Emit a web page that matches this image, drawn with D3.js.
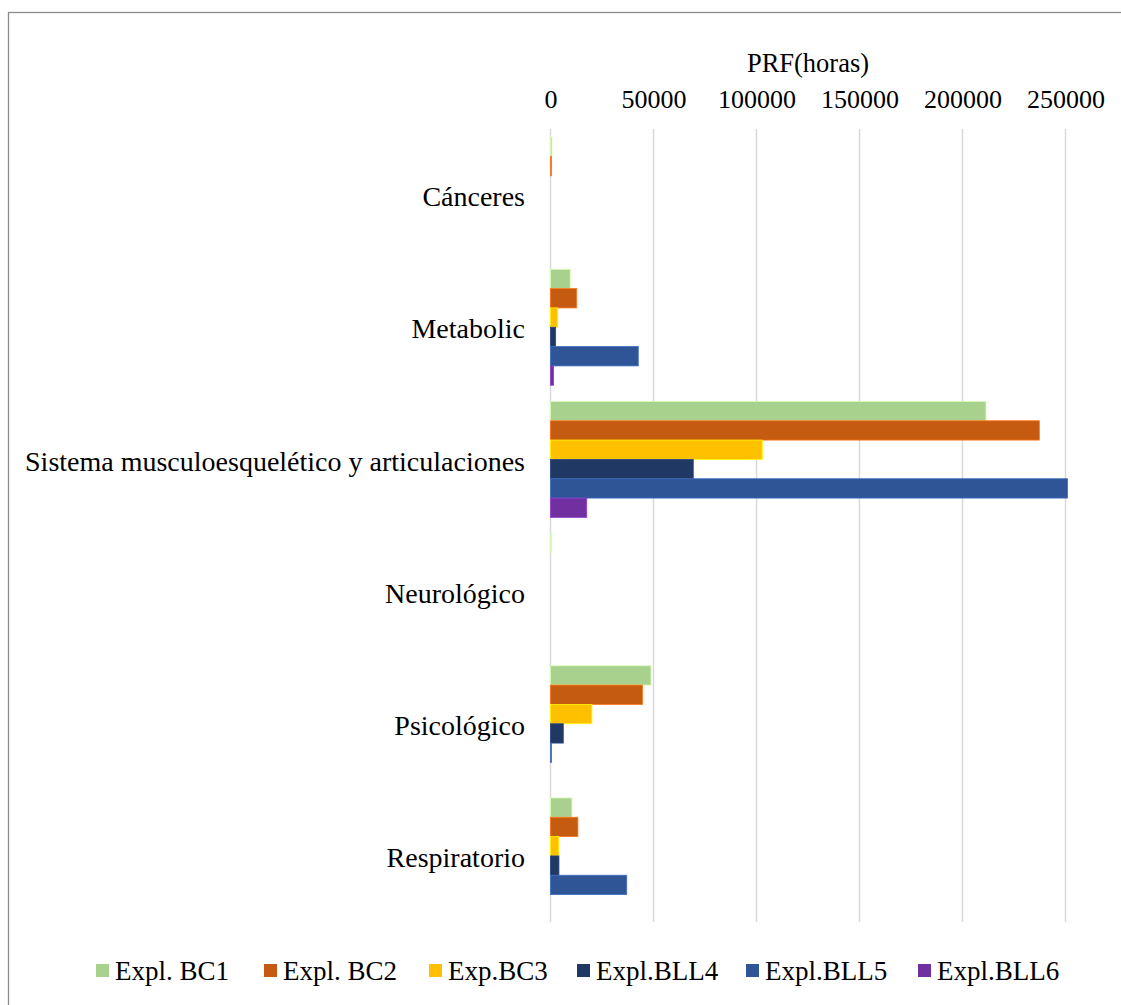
<!DOCTYPE html>
<html>
<head>
<meta charset="utf-8">
<script src="https://cdn.jsdelivr.net/npm/d3@7"></script>
<style>
  html, body { margin: 0; padding: 0; background: #fff; }
  svg { display: block; }
  text { font-family: "Liberation Serif", "Times New Roman", serif; fill: #000; }
</style>
</head>
<body>
<svg id="chart" width="1121" height="1005"></svg>
<script>
// Categories (top to bottom)
const categories = [
  "Cánceres",
  "Metabolic",
  "Sistema musculoesquelético y articulaciones",
  "Neurológico",
  "Psicológico",
  "Respiratorio"
];

// Series names and colours
const seriesNames = ["Expl. BC1", "Expl. BC2", "Exp.BC3", "Expl.BLL4", "Expl.BLL5", "Expl.BLL6"];
const seriesColors = ["#A9D18E", "#C55A11", "#FFC000", "#203864", "#2F5597", "#7030A0"];

// PRF (horas) per series, in category order
const explBC1  = [700,   9600, 211400, 400, 48800, 10400];
const explBC2  = [500,  12700, 237300,   0, 44700, 13300];
const expBC3   = [0,     3500, 102800,   0, 20100,  4000];
const explBLL4 = [0,     2500,  69300,   0,  6200,  4100];
const explBLL5 = [0,    42600, 251000,   0,   500, 37000];
const explBLL6 = [0,     1500,  17600,   0,     0,     0];

// Axis ticks
const tickValues = [0, 50000, 100000, 150000, 200000, 250000];
const axisTitle = "PRF(horas)";

const seriesValues = [explBC1, explBC2, expBC3, explBLL4, explBLL5, explBLL6];

const FONT = '"Liberation Serif", "Times New Roman", serif';
const svg = d3.select("#chart");

// Outer chart frame
svg.append("rect")
  .attr("x", 8.5).attr("y", 12.5)
  .attr("width", 1130).attr("height", 1010)
  .attr("fill", "none").attr("stroke", "#8c8c8c").attr("stroke-width", 1.3);

const plot = { left: 550.5, right: 1065.5, top: 129, bottom: 922 };

const x = d3.scaleLinear().domain([0, 250000]).range([plot.left, plot.right]);

const gap = 0.1225;
const y = d3.scaleBand()
  .domain(categories)
  .range([plot.top, plot.bottom])
  .paddingInner(gap)
  .paddingOuter(gap / 2);

const yInner = d3.scaleBand()
  .domain(d3.range(seriesNames.length))
  .range([0, y.bandwidth()]);

// Vertical gridlines
svg.append("g")
  .selectAll("line")
  .data(tickValues)
  .join("line")
  .attr("x1", d => x(d)).attr("x2", d => x(d))
  .attr("y1", plot.top).attr("y2", plot.bottom)
  .attr("stroke", "#d9d9d9").attr("stroke-width", 1.5);

// Top axis labels
const axis = d3.axisTop(x).tickValues(tickValues).tickSize(0).tickPadding(0)
  .tickFormat(d3.format("d"));
const gAxis = svg.append("g").attr("transform", `translate(0,108)`).call(axis);
gAxis.select(".domain").remove();
gAxis.selectAll("text")
  .attr("dy", 0)
  .style("font-family", FONT)
  .style("font-size", "26px")
  .attr("fill", "#000");

// Axis title
svg.append("text")
  .attr("x", (plot.left + plot.right) / 2)
  .attr("y", 72)
  .attr("text-anchor", "middle")
  .style("font-family", FONT)
  .style("font-size", "26.5px")
  .text(axisTitle);

// Bars
const rows = [];
categories.forEach((c, ci) => {
  seriesValues.forEach((vals, si) => {
    rows.push({ cat: c, si, value: vals[ci] });
  });
});

svg.append("g")
  .selectAll("rect")
  .data(rows.filter(d => d.value > 0))
  .join("rect")
  .attr("x", x(0))
  .attr("y", d => y(d.cat) + yInner(d.si))
  .attr("width", d => Math.max(x(d.value) - x(0), 1))
  .attr("height", yInner.bandwidth())
  .attr("fill", d => seriesColors[d.si])
  .attr("stroke", d => d3.color(seriesColors[d.si]).brighter(0.7))
  .attr("stroke-width", 0.8);

// Category labels
const gY = svg.append("g").attr("transform", `translate(525,0)`)
  .call(d3.axisLeft(y).tickSize(0).tickPadding(0));
gY.select(".domain").remove();
gY.selectAll("text")
  .attr("dy", "0.4em")
  .style("font-family", FONT)
  .style("font-size", "28px")
  .attr("fill", "#000");

// Legend
const legendX = [96, 264, 429, 577, 746, 918];
const legend = svg.append("g").selectAll("g")
  .data(seriesNames)
  .join("g")
  .attr("transform", (d, i) => `translate(${legendX[i]},964)`);
legend.append("rect")
  .attr("width", 13).attr("height", 13)
  .attr("fill", (d, i) => seriesColors[i]);
legend.append("text")
  .attr("x", 19).attr("y", 16)
  .style("font-family", FONT)
  .style("font-size", "27px")
  .text(d => d);
</script>
</body>
</html>
